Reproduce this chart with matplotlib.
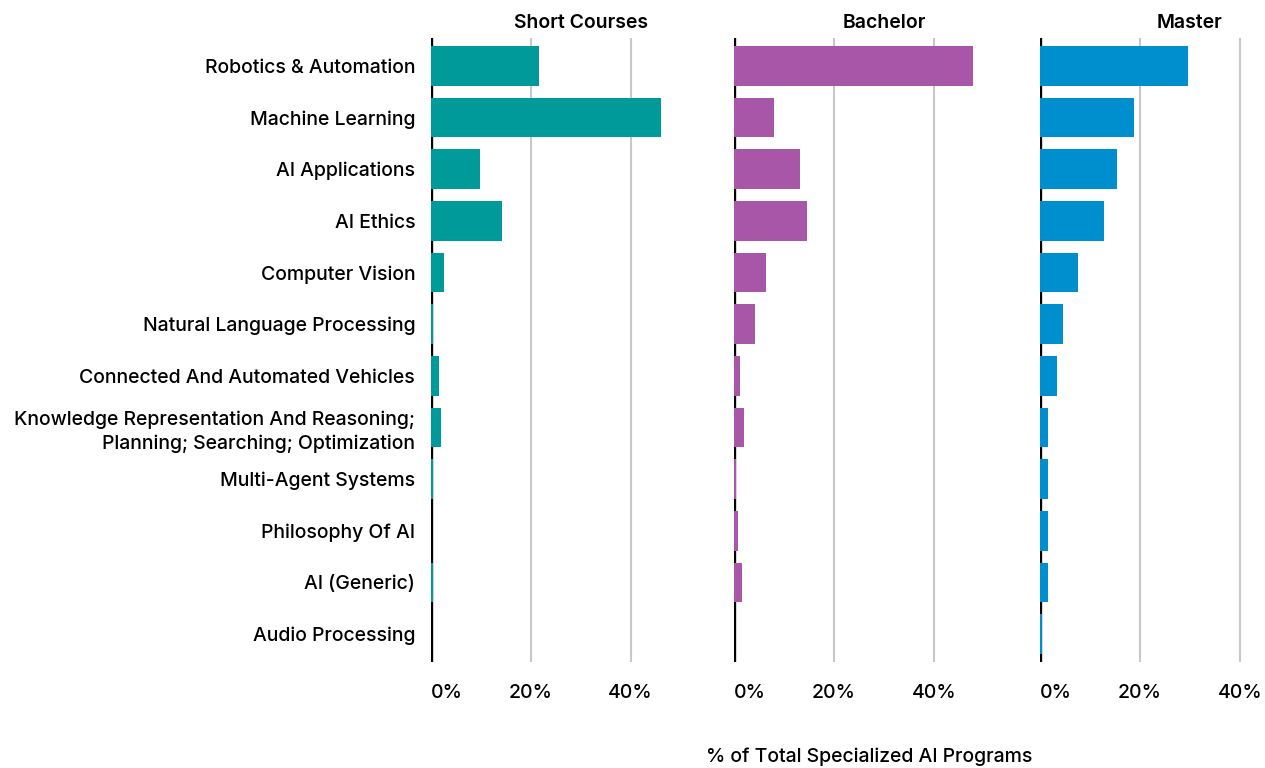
"""Specialized AI programs by topic and level: three-panel horizontal bar chart."""
import matplotlib.pyplot as plt
import numpy as np

plt.rcParams['font.family'] = ['Inter', 'DejaVu Sans']

CATEGORIES = ["Robotics & Automation", "Machine Learning", "AI Applications", "AI Ethics",
              "Computer Vision", "Natural Language Processing",
              "Connected And Automated Vehicles",
              "Knowledge Representation And Reasoning;\nPlanning; Searching; Optimization",
              "Multi-Agent Systems", "Philosophy Of AI", "AI (Generic)", "Audio Processing"]

LEVELS = ["Short Courses", "Bachelor", "Master"]
SHORT = [21.6, 46.0, 9.9, 14.3, 2.6, 0.5, 1.6, 2.0, 0.4, 0.0, 0.4, 0.0]
BACHELOR = [47.8, 8.0, 13.2, 14.6, 6.4, 4.2, 1.2, 2.0, 0.4, 0.8, 1.6, 0.0]
MASTER = [29.6, 18.8, 15.4, 12.8, 7.6, 4.6, 3.4, 1.6, 1.6, 1.6, 1.6, 0.4]
COLORS = ["#009A9A", "#A756A8", "#008FCE"]
XTICKS = [0, 20, 40]
XTICK_LABELS = ["0%", "20%", "40%"]

W, H = 1265, 768
fig = plt.figure(figsize=(W / 100, H / 100), dpi=100)

lefts = [430.5, 734, 1040]
width = 225  # px for 0..45 %
top, bottom = 38, 662
y = np.arange(len(CATEGORIES))
FS = 14

for i, (name, vals, col, left) in enumerate(zip(LEVELS, [SHORT, BACHELOR, MASTER], COLORS, lefts)):
    ax = fig.add_axes([left / W, 1 - bottom / H, width / W, (bottom - top) / H])
    ax.barh(y, vals, height=0.77, color=col, zorder=3, clip_on=False)
    ax.set_xlim(0, 45)
    ax.set_ylim(len(CATEGORIES) - 0.46, -0.54)
    for t in XTICKS[1:]:
        ax.axvline(t, color="#c8c8c8", lw=1.5, zorder=1)
    ax.axvline(0, color="black", lw=2.4, zorder=2)
    for s in ax.spines.values():
        s.set_visible(False)
    ax.set_xticks(XTICKS)
    ax.set_xticklabels(XTICK_LABELS, fontsize=FS, fontweight="medium")
    ax.get_xticklabels()[0].set_horizontalalignment("left")
    ax.tick_params(axis="x", length=0, pad=16)
    ax.set_yticks(y)
    if i == 0:
        ax.set_yticklabels(CATEGORIES, fontsize=FS, fontweight="medium", linespacing=1.35)
        ax.tick_params(axis="y", length=0, pad=11)
    else:
        ax.set_yticklabels([])
        ax.tick_params(axis="y", length=0)
    ax.set_title(name, x=30 / 45, fontsize=FS, fontweight="semibold", pad=7)

fig.text(869 / W, 1 - 757 / H, "% of Total Specialized AI Programs", ha="center", va="center",
         fontsize=FS, fontweight="medium")

fig.savefig("out.png", dpi=100)
